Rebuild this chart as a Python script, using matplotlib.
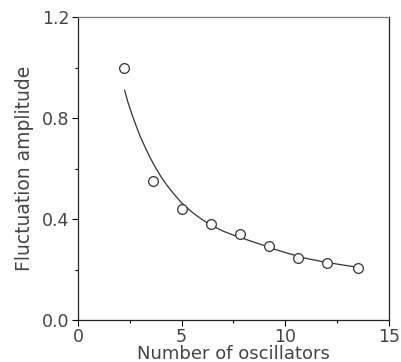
import numpy as np
from matplotlib import pyplot as plt
from matplotlib.ticker import MultipleLocator

# Measured points (open circles)
n_osc = [2.2, 3.6, 5.0, 6.4, 7.8, 9.2, 10.6, 12.0, 13.5]
amp = [1.0, 0.55, 0.44, 0.38, 0.34, 0.293, 0.247, 0.227, 0.206]

# Fitted curve
curve_x = [2.25, 2.4, 2.6, 2.8, 3.0, 3.25, 3.5, 3.75, 4.0, 4.25, 4.5, 4.75,
           5.0, 5.5, 6.0, 6.5, 7.0, 7.5, 8.0, 8.5, 9.0, 9.5, 10.0, 11.0,
           12.0, 13.0, 13.5]
curve_y = [0.91, 0.865, 0.815, 0.77, 0.727, 0.682, 0.64, 0.602, 0.568, 0.538,
           0.512, 0.487, 0.464, 0.427, 0.397, 0.372, 0.352, 0.336, 0.322,
           0.308, 0.294, 0.28, 0.267, 0.244, 0.228, 0.215, 0.209]

plt.rcParams['font.family'] = ['DejaVu Sans']
txt = '#444444'

fig = plt.figure(figsize=(4.01, 3.62), dpi=100)
ax = fig.add_axes([0.1945, 0.116, 0.7755, 0.837])

ax.plot(curve_x, curve_y, '-', color='#333333', lw=0.9)
ax.plot(n_osc, amp, 'o', ms=7, mfc='white', mec='#333333', mew=0.9)

# Formatting
ax.set_xlim(0, 15)
ax.set_ylim(0, 1.2)
ax.xaxis.set_major_locator(MultipleLocator(5))
ax.xaxis.set_minor_locator(MultipleLocator(2.5))
ax.yaxis.set_minor_locator(MultipleLocator(0.2))
ax.set_yticks([0, 0.4, 0.8, 1.2])
ax.set_yticklabels(['0.0', '0.4', '0.8', '1.2'])
ax.tick_params(which='major', direction='out', length=4, width=0.8,
               labelsize=12.5, labelcolor=txt, pad=2)
ax.tick_params(which='minor', direction='out', length=2.5, width=0.8)
for s in ax.spines.values():
    s.set_linewidth(0.9)
    s.set_color('#222222')
ax.spines['top'].set_color('#777777')

ax.set_xlabel('Number of oscillators', fontsize=13, color=txt, labelpad=-1)
ax.set_ylabel('Fluctuation amplitude', fontsize=13.5, color=txt, labelpad=6)

plt.savefig('out.png', dpi=100)
